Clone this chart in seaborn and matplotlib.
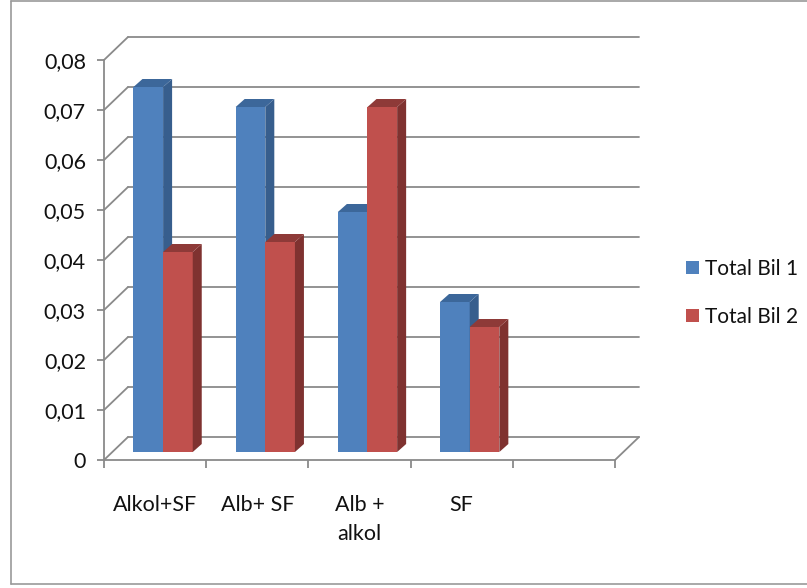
import numpy as np
import pandas as pd
import matplotlib
matplotlib.use("Agg")
import matplotlib.pyplot as plt
import seaborn as sns
from matplotlib.lines import Line2D
from matplotlib.patches import Polygon, Patch
from matplotlib.transforms import ScaledTranslation, IdentityTransform

# --- data -------------------------------------------------------------
categories = ["Alkol+SF", "Alb+ SF", "Alb +\nalkol", "SF"]
n_slots = 5  # the category axis keeps one empty slot on the right
series = ["Total Bil 1", "Total Bil 2"]
total_bil_1 = [0.073, 0.069, 0.048, 0.030]
total_bil_2 = [0.040, 0.042, 0.069, 0.025]
y_ticks = [0.0, 0.01, 0.02, 0.03, 0.04, 0.05, 0.06, 0.07, 0.08]
y_tick_labels = ["0", "0,01", "0,02", "0,03", "0,04", "0,05", "0,06", "0,07", "0,08"]

# --- style ------------------------------------------------------------
front_colors = ["#4F81BD", "#C0504D"]
side_colors = ["#375E8D", "#7F3230"]
top_colors = ["#3C679A", "#8E3A38"]
grid_gray = "#8A8A8A"
text_color = "#111111"

sns.set_theme(style="white")
plt.rcParams["font.family"] = ["Lato", "DejaVu Sans"]

W, H, DPI = 807, 588, 100
fig = plt.figure(figsize=(W / DPI, H / DPI), dpi=DPI)
fig.patch.set_facecolor("white")
ax = fig.add_axes([104 / W, (H - 460) / H, (615 - 104) / W, 400 / H])
ax.set_facecolor("none")

df = pd.DataFrame({
    "Kategori": categories * 2,
    "Seri": [series[0]] * len(categories) + [series[1]] * len(categories),
    "Değer": total_bil_1 + total_bil_2,
})

sns.barplot(data=df, x="Kategori", y="Değer", hue="Seri",
            order=categories, hue_order=series, palette=front_colors,
            saturation=1, width=0.58, gap=0, errorbar=None,
            linewidth=0, ax=ax)

ax.set_xlim(-0.5, n_slots - 0.5)
ax.set_ylim(y_ticks[0], y_ticks[-1])
ax.set_xlabel("")
ax.set_ylabel("")
if ax.get_legend() is not None:
    ax.get_legend().remove()

# oblique depth offsets (pixels)
wall_dx, wall_dy = 24, 23      # back wall
bar_dx, bar_dy = 8, 8          # front face of the bars
depth_dx, depth_dy = 9, 8      # thickness of the bars


def px(x, y):
    return ax.transData.transform((x, y))


ident = IdentityTransform()
x_lo, x_hi = -0.5, n_slots - 0.5

# back wall gridlines and left-wall diagonals
for v in y_ticks:
    p0 = px(x_lo, v)
    p1 = px(x_hi, v)
    ax.add_line(Line2D([p0[0] + wall_dx, p1[0] + wall_dx],
                       [p0[1] + wall_dy, p1[1] + wall_dy],
                       transform=ident, color=grid_gray, lw=1.3,
                       clip_on=False, zorder=1))
    ax.add_line(Line2D([p0[0], p0[0] + wall_dx], [p0[1], p0[1] + wall_dy],
                       transform=ident, color=grid_gray, lw=1.3,
                       clip_on=False, zorder=1))
# right edge of the floor
pr = px(x_hi, 0)
ax.add_line(Line2D([pr[0], pr[0] + wall_dx], [pr[1], pr[1] + wall_dy],
                   transform=ident, color=grid_gray, lw=1.3,
                   clip_on=False, zorder=1))

# bars: shift front faces into depth, add side and top faces
bar_shift = ScaledTranslation(bar_dx / DPI, bar_dy / DPI, fig.dpi_scale_trans)
for i, cont in enumerate(ax.containers):
    for bar in cont:
        bar.set_transform(ax.transData + bar_shift)
        bar.set_zorder(3 + i)
        bar.set_clip_on(False)
        x0, y0 = bar.get_x(), bar.get_y()
        x1, y1 = x0 + bar.get_width(), y0 + bar.get_height()
        a = px(x0, y0) + (bar_dx, bar_dy)
        b = px(x1, y1) + (bar_dx, bar_dy)
        side = Polygon([(b[0], a[1]), (b[0] + depth_dx, a[1] + depth_dy),
                        (b[0] + depth_dx, b[1] + depth_dy), (b[0], b[1])],
                       closed=True, transform=ident, facecolor=side_colors[i],
                       edgecolor="none", clip_on=False, zorder=3 + i)
        top = Polygon([(a[0], b[1]), (b[0], b[1]),
                       (b[0] + depth_dx, b[1] + depth_dy),
                       (a[0] + depth_dx, b[1] + depth_dy)],
                      closed=True, transform=ident, facecolor=top_colors[i],
                      edgecolor="none", clip_on=False, zorder=3 + i)
        ax.add_patch(side)
        ax.add_patch(top)

# axes lines and ticks
for s in ["top", "right"]:
    ax.spines[s].set_visible(False)
for s in ["left", "bottom"]:
    ax.spines[s].set_color(grid_gray)
    ax.spines[s].set_linewidth(1.3)
    ax.spines[s].set_zorder(2)

ax.set_yticks(y_ticks, y_tick_labels)
ax.tick_params(axis="y", which="major", direction="out", length=5,
               width=1.3, color=grid_gray, pad=8, labelsize=15.5,
               labelcolor=text_color, left=True)

ax.set_xticks(range(len(categories)), categories)
ax.set_xticks(np.arange(x_lo, x_hi + 0.01, 1.0), minor=True)
ax.tick_params(axis="x", which="major", length=0, pad=25, labelsize=15.5,
               labelcolor=text_color, bottom=True)
ax.tick_params(axis="x", which="minor", direction="out", length=6,
               width=1.3, color=grid_gray, bottom=True)
for lbl in ax.get_xticklabels():
    lbl.set_linespacing(1.6)
    lbl.set_verticalalignment("top")

# legend
handles = [Patch(facecolor=c, edgecolor="none") for c in front_colors]
fig.legend(handles, series, loc="center left",
           bbox_to_anchor=(686 / W, 1 - 293 / H), bbox_transform=fig.transFigure,
           frameon=False, fontsize=15, handlelength=0.6, handleheight=0.6,
           handletextpad=0.3, labelspacing=1.35, borderpad=0, borderaxespad=0,
           labelcolor=text_color)

# chart-area frame
frame_kw = dict(transform=fig.transFigure, color="#9A9A9A", lw=1.2)
fig.add_artist(Line2D([10.5 / W, 10.5 / W], [1 - 1 / H, 1 - 584 / H], **frame_kw))
fig.add_artist(Line2D([10.5 / W, 1.0], [1 - 584 / H, 1 - 584 / H], **frame_kw))
fig.add_artist(Line2D([10.5 / W, 1.0], [1 - 1 / H, 1 - 1 / H], **frame_kw))

fig.savefig("out.png", dpi=DPI, facecolor="white")
